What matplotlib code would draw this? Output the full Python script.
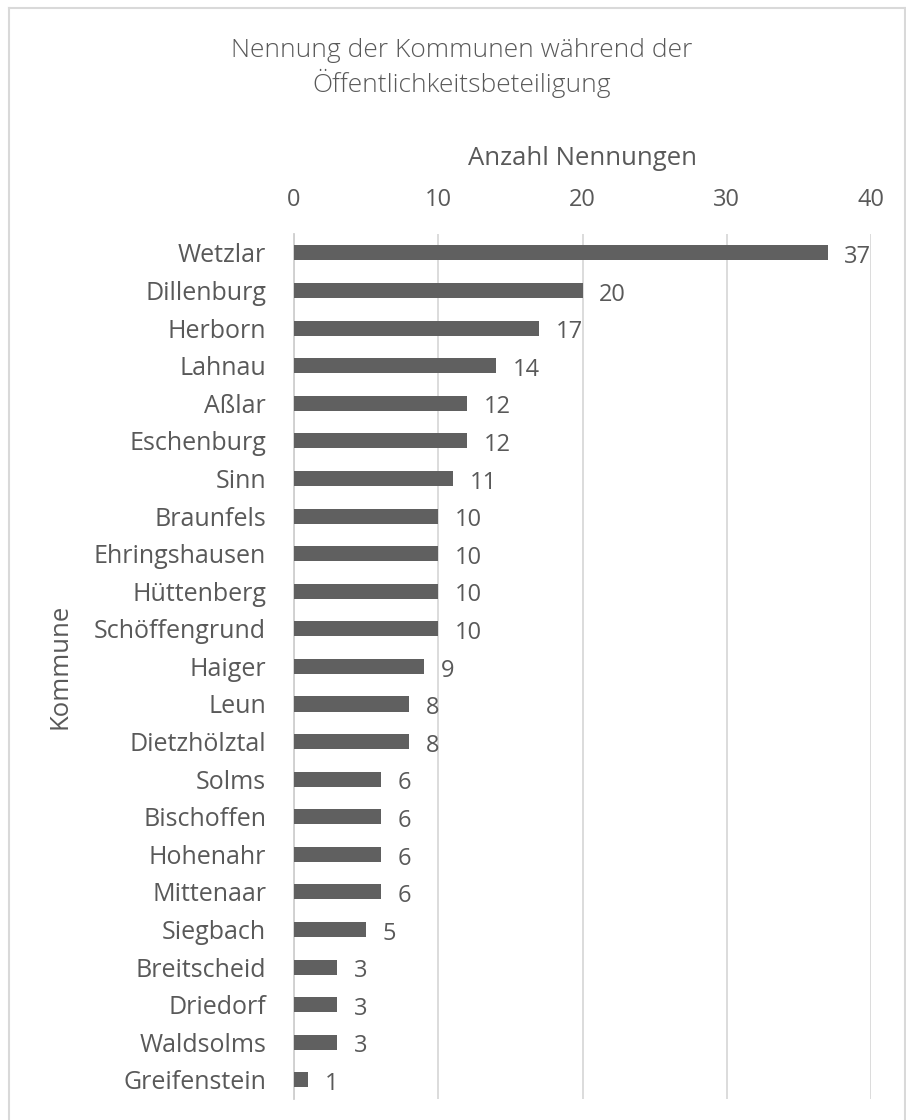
#!/usr/bin/env python
# -*- coding: utf-8 -*-

"""
Horizontal bar chart: Nennung der Kommunen waehrend der Oeffentlichkeitsbeteiligung.
"""

import matplotlib.pyplot as plt
from matplotlib.lines import Line2D

KOMMUNEN = ['Wetzlar', 'Dillenburg', 'Herborn', 'Lahnau', 'Aßlar', 'Eschenburg',
            'Sinn', 'Braunfels', 'Ehringshausen', 'Hüttenberg', 'Schöffengrund',
            'Haiger', 'Leun', 'Dietzhölztal', 'Solms', 'Bischoffen', 'Hohenahr',
            'Mittenaar', 'Siegbach', 'Breitscheid', 'Driedorf', 'Waldsolms',
            'Greifenstein']
NENNUNGEN = [37, 20, 17, 14, 12, 12, 11, 10, 10, 10, 10, 9, 8, 8, 6, 6, 6, 6,
             5, 3, 3, 3, 1]
X_TICKS = [0, 10, 20, 30, 40]

TEXT = '#595959'
BAR = '#606060'
GRID = '#d9d9d9'


def main():
    plt.rcParams['font.family'] = ['Open Sans', 'DejaVu Sans']

    fig = plt.figure(figsize=(9.06, 11.2), dpi=100)
    ax = fig.add_axes([0.3245, 0.019, 0.6369, 0.772])

    pos = list(range(len(KOMMUNEN)))
    ax.barh(pos, NENNUNGEN, height=0.4, color=BAR, zorder=3)
    ax.set_ylim(len(KOMMUNEN) - 0.5, -0.5)
    ax.set_xlim(0, 40)

    for y, v in zip(pos, NENNUNGEN):
        ax.annotate(str(v), xy=(v, y), xytext=(12, -3), textcoords='offset points',
                    ha='left', va='center', fontsize=17, color=TEXT)

    ax.xaxis.tick_top()
    ax.set_xticks(X_TICKS)
    ax.set_xticklabels([str(t) for t in X_TICKS])
    ax.set_yticks(pos)
    ax.set_yticklabels(KOMMUNEN)
    ax.tick_params(axis='x', length=0, pad=16, labelsize=17, colors=TEXT)
    ax.tick_params(axis='y', length=0, pad=20, labelsize=18, colors=TEXT)

    ax.grid(axis='x', color=GRID, linewidth=1.3, zorder=0)
    for s in ['top', 'right', 'bottom']:
        ax.spines[s].set_visible(False)
    ax.spines['left'].set_color('#cfcfcf')
    ax.spines['left'].set_linewidth(1.3)

    # axis titles
    fig.text(582 / 906, 1 - 165 / 1120, 'Anzahl Nennungen', ha='center', va='baseline',
             fontsize=18.5, color=TEXT)
    fig.text(60 / 906, 1 - 666 / 1120, 'Kommune', ha='center', va='center',
             rotation=90, fontsize=18.5, color=TEXT)

    # chart title, two lines
    fig.text(462 / 906, 1 - 57 / 1120, 'Nennung der Kommunen während der',
             ha='center', va='baseline', fontsize=19, color=TEXT, fontweight='light')
    fig.text(462 / 906, 1 - 92 / 1120, 'Öffentlichkeitsbeteiligung',
             ha='center', va='baseline', fontsize=19, color=TEXT, fontweight='light')

    # chart area border (top, left, right)
    top, left, right = 1 - 7.5 / 1120, 8.5 / 906, 904.5 / 906
    for xs, ys in [((left, right), (top, top)), ((left, left), (0, top)),
                   ((right, right), (0, top))]:
        fig.add_artist(Line2D(xs, ys, transform=fig.transFigure, color=GRID, linewidth=1.5))

    plt.savefig('out.png', dpi=100)


if __name__ == "__main__":
    main()
